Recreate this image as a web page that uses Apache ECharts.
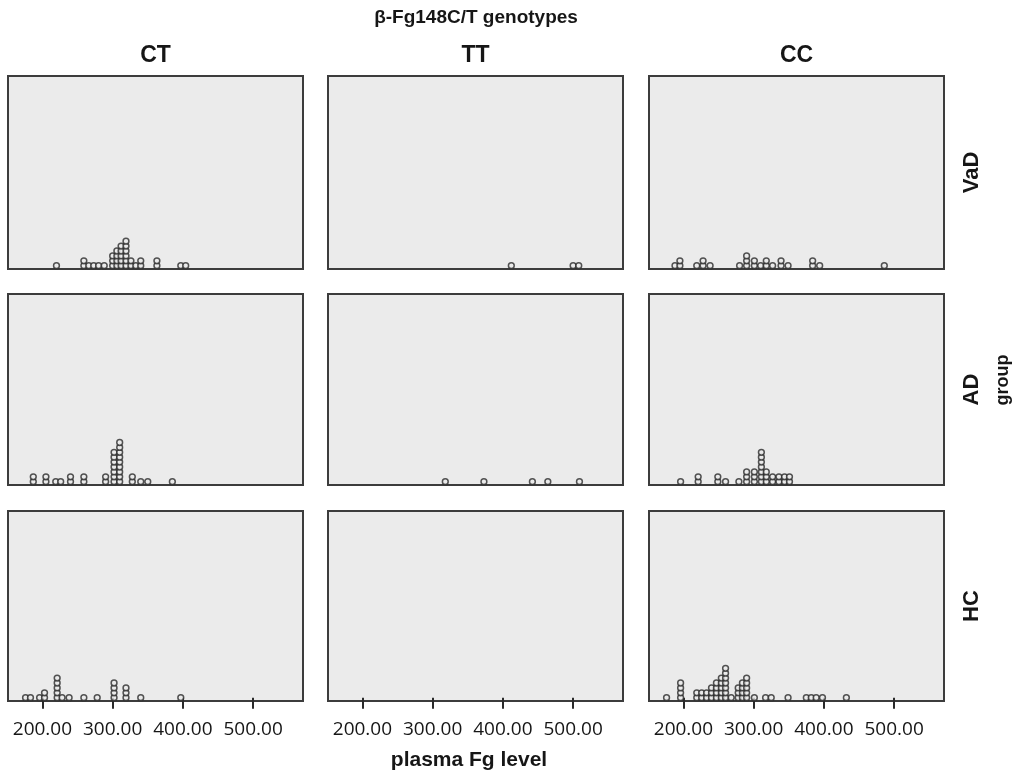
<!DOCTYPE html>
<html lang="en">
<head>
<meta charset="UTF-8">
<title>plasma Fg level by β-Fg148C/T genotype and group</title>
<style>
  * { margin: 0; padding: 0; }
  html, body { width: 100%; height: 100%; background: #fff; }
  #chart { width: 1027px; height: 774px; }
</style>
</head>
<body>
<div id="chart"></div>
<script src="https://cdn.jsdelivr.net/npm/echarts@6/dist/echarts.min.js"></script>
<script>
// categories
const genotypes = ['CT', 'TT', 'CC'];
const groups = ['VaD', 'AD', 'HC'];
const xTicks = [200, 300, 400, 500];

// plasma Fg level per panel (one circle per value, equal values stack)
const vadCT = [220, 259, 259, 266, 273, 280, 288, 300, 300, 300, 306, 306, 306, 306,
  312, 312, 312, 312, 312, 319, 319, 319, 319, 319, 319, 326, 326, 333, 340, 340,
  363, 363, 397, 404];
const vadTT = [412, 500, 508];
const vadCC = [188, 195, 195, 219, 228, 228, 238, 280, 290, 290, 290, 301, 301, 310,
  318, 318, 327, 339, 339, 349, 384, 384, 394, 486];

const adCT = [187, 187, 205, 205, 219, 226, 240, 240, 259, 259, 290, 290,
  302, 302, 302, 302, 302, 302, 302, 310, 310, 310, 310, 310, 310, 310, 310, 310,
  328, 328, 340, 350, 385];
const adTT = [318, 373, 442, 464, 509];
const adCC = [196, 221, 221, 249, 249, 260, 279, 290, 290, 290, 301, 301, 301,
  311, 311, 311, 311, 311, 311, 311, 318, 318, 318, 327, 327, 336, 336, 344, 344, 351, 351];

const hcCT = [176, 183, 196, 203, 203, 221, 221, 221, 221, 221, 228, 238, 259, 278,
  302, 302, 302, 302, 319, 319, 319, 340, 397];
const hcTT = [];
const hcCC = [176, 196, 196, 196, 196, 219, 219, 226, 226, 233, 233, 240, 240, 240,
  247, 247, 247, 247, 254, 254, 254, 254, 254, 260, 260, 260, 260, 260, 260, 260,
  268, 278, 278, 278, 284, 284, 284, 284, 290, 290, 290, 290, 290, 301, 317, 325,
  349, 375, 382, 389, 398, 432];

const panels = [
  [vadCT, vadTT, vadCC],
  [adCT, adTT, adCC],
  [hcCT, hcTT, hcCC]
];

// layout
const xMin = 151, xMax = 571;
const colLeft = [8, 328, 649], colWidth = 295;
const rowTop = [76, 294, 511], rowHeight = [193, 191, 190];
const dotStep = 4.9, dotBase = 3.3;
const bg = '#ebebeb', ink = '#2a2a2a';

// turn a value list into [value, stack index]
function stack(values) {
  const seen = {};
  return values.slice().sort((a, b) => a - b).map(v => {
    seen[v] = seen[v] || 0;
    return [v, seen[v]++];
  });
}

const grid = [], xAxis = [], yAxis = [], series = [];
groups.forEach((g, r) => {
  genotypes.forEach((c, k) => {
    const i = r * 3 + k;
    const bottom = r === 2;
    grid.push({
      left: colLeft[k], top: rowTop[r], width: colWidth, height: rowHeight[r],
      show: true, backgroundColor: bg, borderColor: '#3c3c3c', borderWidth: 2
    });
    xAxis.push({
      type: 'value', gridIndex: i, min: xMin, max: xMax,
      splitLine: { show: false },
      axisLine: { show: false },
      axisTick: {
        show: bottom, length: 11, customValues: xTicks,
        lineStyle: { color: ink, width: 2 }
      },
      axisLabel: {
        show: bottom, customValues: xTicks, margin: 19,
        formatter: v => v.toFixed(2),
        color: '#161616', fontSize: 19, fontFamily: '"Open Sans", "DejaVu Sans", sans-serif'
      }
    });
    const ymin = -dotBase / dotStep;
    yAxis.push({
      type: 'value', gridIndex: i, show: false,
      min: ymin, max: ymin + rowHeight[r] / dotStep
    });
    series.push({
      type: 'scatter', xAxisIndex: i, yAxisIndex: i,
      symbol: 'circle', symbolSize: 5.8,
      itemStyle: { color: bg, borderColor: ink, borderWidth: 1.5 },
      silent: true,
      data: stack(panels[r][k])
    });
  });
});

const headFont = '"Liberation Sans", Arial, sans-serif';
const center = { align: 'center', verticalAlign: 'middle', textAlign: 'center', textVerticalAlign: 'middle', fill: '#161616' };
const graphic = [
  { type: 'text', x: 476, y: 18, style: Object.assign({ text: 'β-Fg148C/T genotypes', font: 'bold 19px ' + headFont }, center) },
  { type: 'text', x: 469, y: 760, style: Object.assign({ text: 'plasma Fg level', font: 'bold 21px ' + headFont }, center) },
  { type: 'text', x: 1003, y: 380, rotation: Math.PI / 2, style: Object.assign({ text: 'group', font: 'bold 18px ' + headFont }, center) }
];
genotypes.forEach((c, k) => {
  graphic.push({ type: 'text', x: colLeft[k] + colWidth / 2, y: 56, style: Object.assign({ text: c, font: 'bold 23px ' + headFont }, center) });
});
groups.forEach((g, r) => {
  graphic.push({ type: 'text', x: 972, y: rowTop[r] + rowHeight[r] / 2, rotation: Math.PI / 2, style: Object.assign({ text: g, font: 'bold 22px ' + headFont }, center) });
});

const chart = echarts.init(document.getElementById('chart'), null, { renderer: 'canvas' });
chart.setOption({
  animation: false,
  backgroundColor: '#fff',
  grid: grid,
  xAxis: xAxis,
  yAxis: yAxis,
  series: series,
  graphic: graphic
});
</script>
</body>
</html>
